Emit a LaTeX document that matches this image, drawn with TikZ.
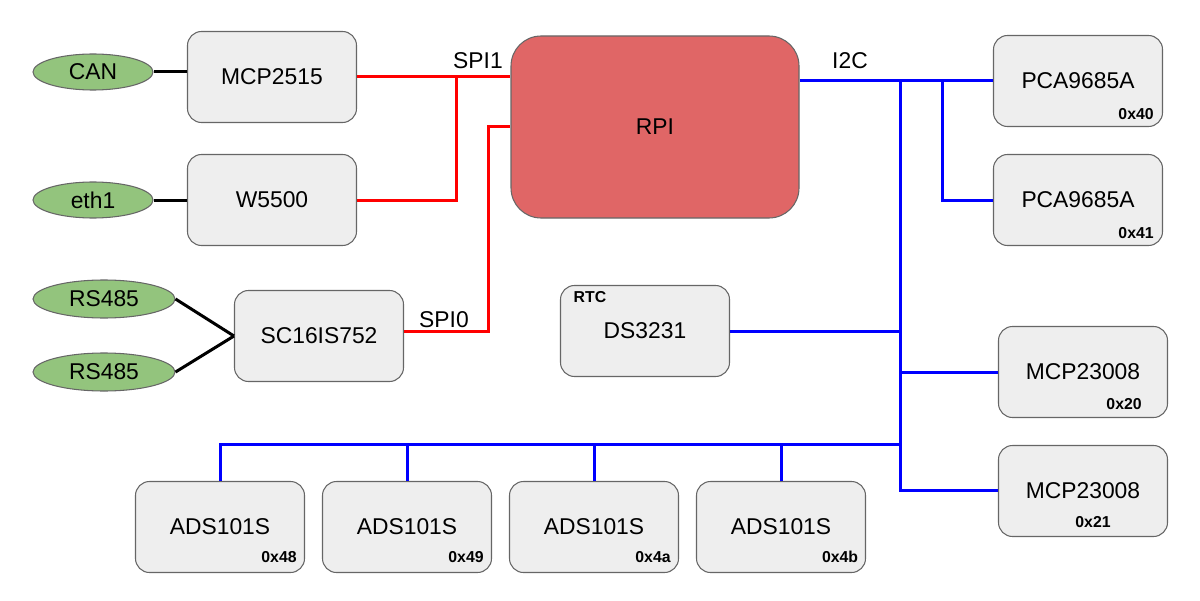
\documentclass[tikz,border=0pt]{standalone}
\usepackage{fontspec}
\setmainfont{Liberation Sans}
\usetikzlibrary{shapes.geometric}
\definecolor{boxfill}{HTML}{EEEEEE}
\definecolor{boxline}{HTML}{666666}
\definecolor{rpifill}{HTML}{E06666}
\definecolor{portfill}{HTML}{93C47D}
\newcommand{\txtsize}{\fontsize{13}{15.5}\selectfont}

\begin{document}
\begin{tikzpicture}[x=0.2mm,y=-0.2mm,
		chip/.style={draw=boxline,fill=boxfill,rounded corners=2.8mm,line width=0.6pt,
			minimum width=33.8mm,minimum height=18.2mm,inner sep=0pt,font=\txtsize},
		port/.style={ellipse,draw=boxline,fill=portfill,line width=0.6pt,
			minimum width=24mm,minimum height=7.2mm,inner sep=0pt,font=\txtsize},
		addr/.style={font=\bfseries\fontsize{9}{10}\selectfont,inner sep=0pt},
		lbl/.style={font=\txtsize,inner sep=0pt},
		wire/.style={draw=black,line width=0.6mm},
		spi/.style={draw=red,line width=0.6mm},
		i2c/.style={draw=blue,line width=0.6mm}]
		\useasboundingbox (0,0) rectangle (1200,600);
		% ports
		\node[port] (can) at (93,72) {CAN};
		\node[port] (eth) at (93,200) {eth1};
		\node[port,minimum width=28.4mm,minimum height=7.6mm] (rsa) at (104,299) {RS485};
		\node[port,minimum width=28.4mm,minimum height=7.6mm] (rsb) at (104,372) {RS485};
		% chips on SPI
		\node[chip] (mcp) at (272,77) {MCP2515};
		\node[chip] (wiz) at (272,200) {W5500};
		\node[chip] (uart) at (319,336) {SC16IS752};
		\node[chip,fill=rpifill,minimum width=57.6mm,minimum height=36.4mm,rounded corners=6mm] (rpi) at (655,127) {RPI};
		% chips on I2C
		\node[chip] (pwma) at (1078,81) {PCA9685A};
		\node[chip] (pwmb) at (1078,200) {PCA9685A};
		\node[chip] (rtc) at (645,331) {DS3231};
		\node[chip] (gpioa) at (1083,372) {MCP23008};
		\node[chip] (gpiob) at (1083,491) {MCP23008};
		\foreach \x [count=\i] in {220,407,594,781}
			\node[chip] (adc\i) at (\x,527) {ADS101S};
		% addresses
		\node[addr] (pwmaaddr) at ([shift={(-27,-13)}]pwma.south east) {0x40};
		\node[addr] (pwmbaddr) at ([shift={(-27,-13)}]pwmb.south east) {0x41};
		\node[addr] (gpioaaddr) at ([shift={(-44,-14)}]gpioa.south east) {0x20};
		\node[addr] (gpiobaddr) at ([shift={(10,-15)}]gpiob.south) {0x21};
		\node[addr] (rtclbl) at ([shift={(30,12)}]rtc.north west) {RTC};
		\foreach \a [count=\i] in {48,49,4a,4b}
			\node[addr] (adc\i addr) at ([shift={(-26,-16)}]adc\i.south east) {0x\a};
		% black wires
		\draw[wire] (can.east) -- (can.east -| mcp.west);
		\draw[wire] (eth.east) -- (wiz.west);
		\draw[wire] (rsa.east) -- (uart.west);
		\draw[wire] (rsb.east) -- (uart.west);
		% SPI1
		\coordinate (spitap) at (456,77);
		\draw[spi] (mcp.east) -- (mcp.east -| rpi.west);
		\draw[spi] (wiz.east) -| (spitap);
		\node[lbl] (spionelbl) at (478,61) {SPI1};
		% SPI0
		\coordinate (spibend) at (488,127);
		\draw[spi] ([yshift=1mm]uart.east) -| (spibend) -- (spibend -| rpi.west);
		\node[lbl] (spizerolbl) at (444,320) {SPI0};
		% I2C
		\coordinate (bustop) at (900,81);
		\coordinate (busbot) at (900,490);
		\coordinate (pwmtap) at (942,81);
		\coordinate (adcbus) at (900,444);
		\draw[i2c] (rpi.east |- pwma) -- (pwma.west);
		\draw[i2c] (bustop) -- (busbot) -- (busbot -| gpiob.west);
		\draw[i2c] (pwmtap) |- (pwmb.west);
		\draw[i2c] (rtc.east) -- (rtc.east -| bustop);
		\draw[i2c] (bustop |- gpioa) -- (gpioa.west);
		\draw[i2c] (adcbus) -- (adcbus -| adc1.north) -- (adc1.north);
		\foreach \i in {2,3,4}
			\draw[i2c] (adcbus -| adc\i.north) -- (adc\i.north);
		\node[lbl] (itwoclbl) at (850,61) {I2C};
	\end{tikzpicture}
\end{document}
